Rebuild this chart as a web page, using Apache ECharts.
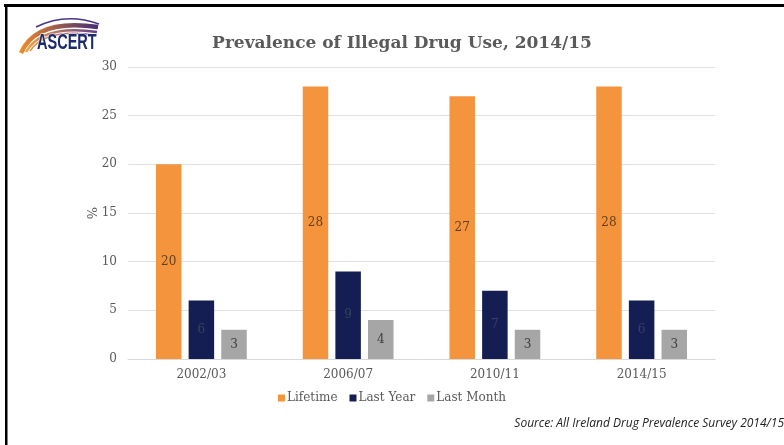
<!DOCTYPE html>
<html>
<head>
<meta charset="utf-8">
<script src="https://cdn.jsdelivr.net/npm/echarts@6/dist/echarts.min.js"></script>
<style>
html,body{margin:0;padding:0;background:#fff;}
#c{width:784px;height:445px;}
</style>
</head>
<body>
<div id="c"></div>
<script>
const categories = ['2002/03', '2006/07', '2010/11', '2014/15'];
const lifetime = [20, 28, 27, 28];
const lastYear = [6, 9, 7, 6];
const lastMonth = [3, 4, 3, 3];
const seriesNames = ['Lifetime', 'Last Year', 'Last Month'];
const titleText = 'Prevalence of Illegal Drug Use, 2014/15';
const sourceText = 'Source: All Ireland Drug Prevalence Survey 2014/15';

const serif = '"DejaVu Serif", "Liberation Serif", serif';
const chart = echarts.init(document.getElementById('c'), null, {renderer: 'canvas'});

function barSeries(name, data, color, labelColor) {
  return {
    name: name, type: 'bar', data: data,
    barWidth: 25.5, barGap: '28%',
    itemStyle: {color: color},
    label: {show: true, position: 'inside', color: labelColor, fontFamily: serif, fontSize: 12},
    emphasis: {disabled: true}
  };
}

const logoGrad = (c1, c2) => new echarts.graphic.LinearGradient(0, 0, 1, 0, [
  {offset: 0, color: c1}, {offset: 1, color: c2}
]);

chart.setOption({
  animation: false,
  title: {
    text: titleText, left: 397, top: 30, textAlign: 'center',
    textStyle: {fontFamily: serif, fontSize: 17, fontWeight: 'bold', color: '#5a5a5a'}
  },
  grid: {left: 128, right: 69, top: 67, bottom: 86},
  legend: {
    data: seriesNames, bottom: 36, left: 'center',
    itemWidth: 7, itemHeight: 7, itemGap: 12, icon: 'rect',
    textStyle: {fontFamily: serif, fontSize: 12, color: '#595959', padding: [0, 0, 0, -3]}
  },
  xAxis: {
    type: 'category', data: categories,
    axisLine: {lineStyle: {color: '#d9d9d9'}},
    axisTick: {show: false},
    axisLabel: {fontFamily: serif, fontSize: 12, color: '#595959', margin: 10}
  },
  yAxis: {
    type: 'value', min: 0, max: 30, interval: 5,
    name: '%', nameLocation: 'middle', nameGap: 28, nameRotate: 90, nameMoveOverlap: false,
    nameTextStyle: {fontFamily: serif, fontSize: 13, color: '#595959'},
    axisLine: {show: false}, axisTick: {show: false},
    axisLabel: {fontFamily: serif, fontSize: 12, color: '#595959', margin: 11},
    splitLine: {lineStyle: {color: '#e0e0e0'}}
  },
  series: [
    barSeries(seriesNames[0], lifetime, '#f4953d', '#63401c'),
    barSeries(seriesNames[1], lastYear, '#141e52', '#3a4060'),
    barSeries(seriesNames[2], lastMonth, '#a6a6a6', '#404040')
  ],
  graphic: [
    {type: 'rect', shape: {x: 4, y: 4, width: 800, height: 3}, style: {fill: '#000'}},
    {type: 'rect', shape: {x: 5, y: 4, width: 2.5, height: 460}, style: {fill: '#000'}},
    {type: 'bezierCurve', shape: {x1: 21, y1: 53, cpx1: 36, cpy1: 18, x2: 98, y2: 27},
      style: {stroke: logoGrad('#f28c28', '#3d2a7a'), lineWidth: 4.5, fill: null}},
    {type: 'bezierCurve', shape: {x1: 26, y1: 52, cpx1: 42, cpy1: 24, x2: 97, y2: 32},
      style: {stroke: logoGrad('#f7a640', '#5b3a8f'), lineWidth: 2.5, fill: null}},
    {type: 'bezierCurve', shape: {x1: 30, y1: 51, cpx1: 46, cpy1: 28, x2: 95, y2: 35},
      style: {stroke: logoGrad('#f4953d', '#7a4da0'), lineWidth: 1.5, fill: null}},
    {type: 'bezierCurve', shape: {x1: 36, y1: 27, cpx1: 66, cpy1: 12, x2: 99, y2: 24},
      style: {stroke: '#4a3585', lineWidth: 1.5, fill: null}},
    {type: 'text', x: 37, y: 32, scaleX: 0.66,
      style: {text: 'ASCERT', fontFamily: '"Liberation Sans", sans-serif',
        fontWeight: 'bold', fontSize: 22, fill: '#1c2b6e', stroke: '#fff', lineWidth: 1}},
    {type: 'text', right: 0, top: 418,
      style: {text: sourceText, fontFamily: '"Open Sans", "Noto Sans", sans-serif', fontStyle: 'italic',
        fontSize: 12, fill: '#222'}}
  ]
});
</script>
</body>
</html>
